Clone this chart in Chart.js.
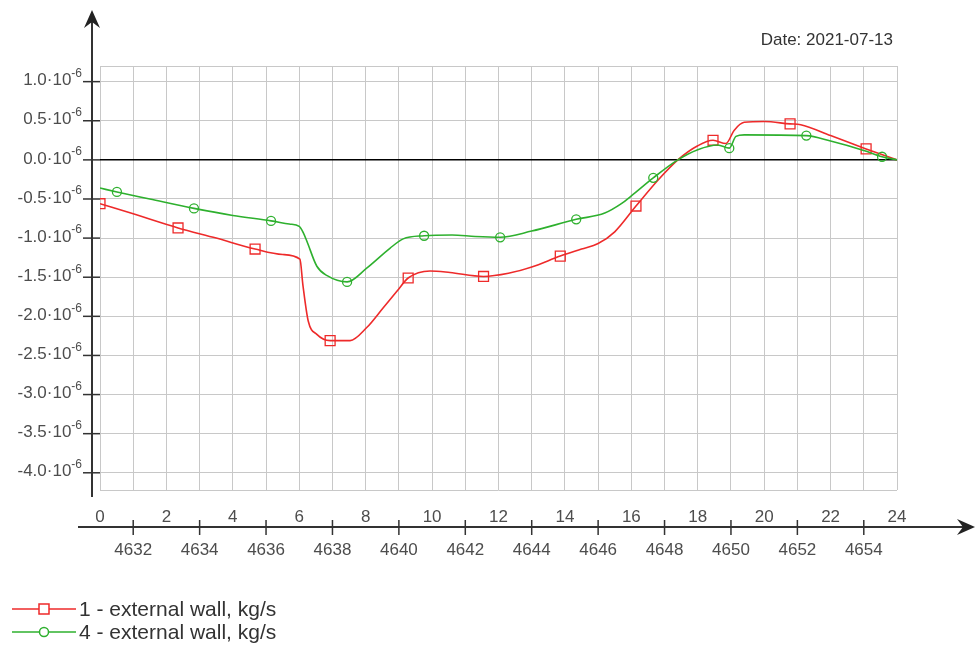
<!DOCTYPE html>
<html>
<head>
<meta charset="utf-8">
<title>External wall mass flow</title>
<script src="https://cdn.jsdelivr.net/npm/chart.js@4/dist/chart.umd.min.js"></script>
<style>
  html, body { margin: 0; padding: 0; background: #ffffff; }
  canvas { display: block; }
</style>
</head>
<body>
<canvas id="chart" width="977" height="646"></canvas>
<script>
// Mass flow through the external wall, values in units of 10^-6 kg/s.
const dateLabel = 'Date: 2021-07-13';

// Series 1 – curve samples (hour of day) and flow
const wall1Hours = [0, 1.0, 2.35, 3.5, 4.67, 5.5, 6.02, 6.11, 6.27, 6.53, 6.93, 7.53, 8.04, 8.53, 8.94, 9.28,
  9.94, 10.54, 11.55, 12.3, 13.0, 13.86, 14.5, 15.0, 15.5, 16.14, 16.8, 17.4, 18.0, 18.46, 18.85, 19.1, 19.4,
  20.0, 20.78, 21.1, 22.0, 23.07, 24];
const wall1Flow = [-0.56, -0.69, -0.87, -1.00, -1.14, -1.21, -1.27, -1.60, -2.06, -2.23, -2.31, -2.31, -2.14, -1.89, -1.68, -1.51,
  -1.42, -1.44, -1.49, -1.45, -1.37, -1.23, -1.14, -1.07, -0.92, -0.59, -0.26, 0.0, 0.18, 0.25, 0.21, 0.38, 0.48,
  0.49, 0.46, 0.45, 0.31, 0.14, 0.0];
// sample indices that carry a marker
const wall1Markers = [0, 2, 4, 10, 15, 18, 21, 25, 29, 34, 37];

// Series 4 – curve samples (hour of day) and flow
const wall4Hours = [0, 0.51, 1.5, 2.83, 4.0, 5.15, 5.7, 6.0, 6.12, 6.23, 6.53, 6.84, 7.44, 8.04, 8.73, 9.13,
  9.76, 10.6, 11.3, 12.05, 13.0, 14.34, 15.2, 15.7, 16.0, 16.66, 17.4, 18.0, 18.6, 18.95, 19.15, 19.4,
  21.27, 22.0, 23.0, 23.55, 24];
const wall4Flow = [-0.36, -0.41, -0.50, -0.62, -0.71, -0.78, -0.82, -0.85, -0.93, -1.04, -1.36, -1.48, -1.56, -1.38, -1.13, -1.01,
  -0.97, -0.96, -0.98, -0.99, -0.91, -0.76, -0.68, -0.56, -0.46, -0.23, 0.0, 0.13, 0.19, 0.15, 0.30, 0.32,
  0.31, 0.24, 0.12, 0.04, 0.0];
const wall4Markers = [1, 3, 5, 12, 16, 19, 21, 25, 29, 32, 35];

// Axis labels
const hourTicks = [0, 2, 4, 6, 8, 10, 12, 14, 16, 18, 20, 22, 24];
const yearHourTicks = [4632, 4634, 4636, 4638, 4640, 4642, 4644, 4646, 4648, 4650, 4652, 4654];
const yearHourOffset = 4631;   // hour of year at 00:00 of the day
const flowExponent = '-6';

const RED = '#ee2a2a';
const GREEN = '#2eb02e';
const TEXT = '#4d4d4d';

const toPoints = (hs, vs) => hs.map((h, i) => ({ x: h, y: vs[i] }));

function drawArrow(ctx, tx, ty, dir) {
  ctx.beginPath();
  if (dir === 'up') {
    ctx.moveTo(tx, ty);
    ctx.lineTo(tx - 8, ty + 18);
    ctx.lineTo(tx, ty + 12);
    ctx.lineTo(tx + 8, ty + 18);
  } else {
    ctx.moveTo(tx, ty);
    ctx.lineTo(tx - 18, ty - 8);
    ctx.lineTo(tx - 12, ty);
    ctx.lineTo(tx - 18, ty + 8);
  }
  ctx.closePath();
  ctx.fill();
}

const decorations = {
  id: 'decorations',
  afterDraw(chart) {
    const ctx = chart.ctx;
    const xs = chart.scales.x;
    const ys = chart.scales.y;
    const area = chart.chartArea;
    ctx.save();

    // vertical axis with arrow
    const axX = area.left - 8;
    ctx.strokeStyle = '#333';
    ctx.fillStyle = '#222';
    ctx.lineWidth = 2;
    ctx.beginPath();
    ctx.moveTo(axX, 20);
    ctx.lineTo(axX, area.bottom + 7);
    ctx.stroke();
    drawArrow(ctx, axX, 10, 'up');

    // y ticks and labels with power-of-ten notation
    ctx.lineWidth = 1.5;
    ys.ticks.forEach(t => {
      const v = t.value;
      if (Math.abs(v * 2 - Math.round(v * 2)) > 1e-6) return;
      const py = ys.getPixelForValue(v);
      ctx.beginPath();
      ctx.moveTo(axX - 9, py);
      ctx.lineTo(area.left, py);
      ctx.stroke();
      const supFont = '12px "Liberation Sans", Arial, sans-serif';
      const mainFont = '17px "Liberation Sans", Arial, sans-serif';
      ctx.fillStyle = TEXT;
      ctx.textBaseline = 'middle';
      ctx.textAlign = 'right';
      ctx.font = supFont;
      const supW = ctx.measureText(flowExponent).width;
      const right = axX - 10;
      ctx.fillText(flowExponent, right, py - 8);
      ctx.font = mainFont;
      ctx.fillText(v.toFixed(1) + '\u00b710', right - supW, py - 1);
    });

    // horizontal axis with arrow
    const axY = area.bottom + 37;
    ctx.strokeStyle = '#333';
    ctx.fillStyle = '#222';
    ctx.lineWidth = 2;
    ctx.beginPath();
    ctx.moveTo(78, axY);
    ctx.lineTo(965, axY);
    ctx.stroke();
    drawArrow(ctx, 975, axY, 'right');

    ctx.lineWidth = 1.5;
    ctx.font = '17px "Liberation Sans", Arial, sans-serif';
    ctx.fillStyle = TEXT;
    ctx.textAlign = 'center';
    ctx.textBaseline = 'middle';
    hourTicks.forEach(h => {
      ctx.fillText(String(h), xs.getPixelForValue(h), axY - 10);
    });
    yearHourTicks.forEach(yh => {
      const px = xs.getPixelForValue(yh - yearHourOffset);
      ctx.beginPath();
      ctx.moveTo(px, axY - 7);
      ctx.lineTo(px, axY + 8);
      ctx.stroke();
      ctx.fillText(String(yh), px, axY + 23);
    });

    // date caption
    ctx.fillStyle = '#333';
    ctx.textAlign = 'right';
    ctx.font = '17px "Liberation Sans", Arial, sans-serif';
    ctx.fillText(dateLabel, 893, 40);

    // legend
    const rows = [609, 632];
    chart.data.datasets.forEach((ds, i) => {
      const y = rows[i];
      ctx.strokeStyle = ds.borderColor;
      ctx.lineWidth = 1.5;
      ctx.beginPath();
      ctx.moveTo(12, y);
      ctx.lineTo(76, y);
      ctx.stroke();
      ctx.fillStyle = '#fff';
      ctx.beginPath();
      if (ds.pointStyle === 'rect') {
        ctx.rect(39, y - 5, 10, 10);
      } else {
        ctx.arc(44, y, 4.5, 0, Math.PI * 2);
      }
      ctx.fill();
      ctx.stroke();
      ctx.fillStyle = '#333';
      ctx.textAlign = 'left';
      ctx.textBaseline = 'middle';
      ctx.font = '21px "Liberation Sans", Arial, sans-serif';
      ctx.fillText(ds.label, 79, y + 1);
    });
    ctx.restore();
  }
};

const markerRadius = (list, r) => c => (list.includes(c.dataIndex) ? r : 0);

new Chart(document.getElementById('chart'), {
  type: 'line',
  data: {
    datasets: [
      {
        label: '1 - external wall, kg/s',
        data: toPoints(wall1Hours, wall1Flow),
        borderColor: RED,
        borderWidth: 1.6,
        cubicInterpolationMode: 'monotone',
        pointStyle: 'rect',
        pointRadius: markerRadius(wall1Markers, 7),
        pointBorderWidth: 1.3,
        pointBorderColor: RED,
        pointBackgroundColor: 'rgba(255,255,255,0)',
        order: 2
      },
      {
        label: '4 - external wall, kg/s',
        data: toPoints(wall4Hours, wall4Flow),
        borderColor: GREEN,
        borderWidth: 1.6,
        cubicInterpolationMode: 'monotone',
        pointStyle: 'circle',
        pointRadius: markerRadius(wall4Markers, 4.5),
        pointBorderWidth: 1.3,
        pointBorderColor: GREEN,
        pointBackgroundColor: 'rgba(255,255,255,0)',
        order: 1
      }
    ]
  },
  options: {
    responsive: false,
    animation: false,
    devicePixelRatio: 1,
    layout: { padding: { left: 100, right: 80, top: 66, bottom: 156 } },
    plugins: { legend: { display: false }, tooltip: { enabled: false } },
    scales: {
      x: {
        type: 'linear',
        min: 0,
        max: 24,
        ticks: { display: false, stepSize: 1 },
        border: { display: false },
        grid: { color: '#c8c8c8', lineWidth: 1, drawTicks: false },
        afterFit: s => { s.height = 0; }
      },
      y: {
        min: -4.22,
        max: 1.2,
        ticks: { display: false, stepSize: 0.5 },
        border: { display: false },
        grid: {
          drawTicks: false,
          color: c => (Math.abs(c.tick.value) < 1e-9 ? '#000000' : '#c8c8c8'),
          lineWidth: c => (Math.abs(c.tick.value) < 1e-9 ? 1.5 : 1)
        },
        afterFit: s => { s.width = 0; }
      }
    }
  },
  plugins: [decorations]
});
</script>
</body>
</html>
